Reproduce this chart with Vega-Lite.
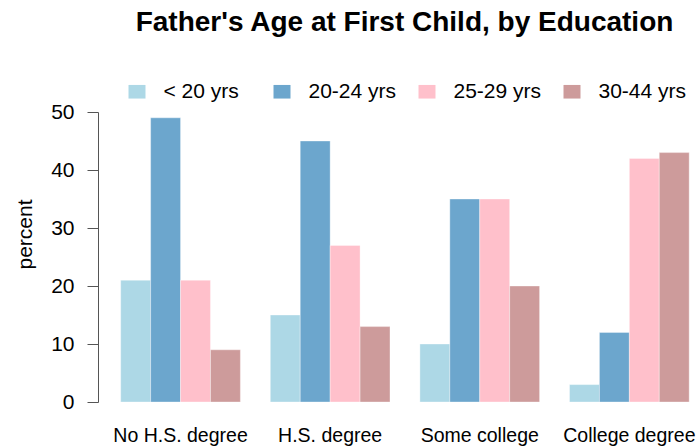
{
  "$schema": "https://vega.github.io/schema/vega-lite/v6.json",
  "width": 599,
  "height": 290,
  "autosize": {"type": "none"},
  "padding": {"left": 98, "top": 112, "right": 0, "bottom": 44},
  "background": "white",
  "config": {"view": {"stroke": null}, "font": "Liberation Sans"},
  "title": {
    "text": "Father's Age at First Child, by Education",
    "fontSize": 28,
    "fontWeight": "bold",
    "font": "Liberation Sans",
    "color": "black",
    "anchor": "middle",
    "frame": "group",
    "orient": "top",
    "offset": 22,
    "baseline": "alphabetic",
    "dx": 7
  },
  "data": {
    "values": [
      {"edu": "No H.S. degree", "age": "< 20 yrs", "pct": 21},
      {"edu": "No H.S. degree", "age": "20-24 yrs", "pct": 49},
      {"edu": "No H.S. degree", "age": "25-29 yrs", "pct": 21},
      {"edu": "No H.S. degree", "age": "30-44 yrs", "pct": 9},
      {"edu": "H.S. degree", "age": "< 20 yrs", "pct": 15},
      {"edu": "H.S. degree", "age": "20-24 yrs", "pct": 45},
      {"edu": "H.S. degree", "age": "25-29 yrs", "pct": 27},
      {"edu": "H.S. degree", "age": "30-44 yrs", "pct": 13},
      {"edu": "Some college", "age": "< 20 yrs", "pct": 10},
      {"edu": "Some college", "age": "20-24 yrs", "pct": 35},
      {"edu": "Some college", "age": "25-29 yrs", "pct": 35},
      {"edu": "Some college", "age": "30-44 yrs", "pct": 20},
      {"edu": "College degree", "age": "< 20 yrs", "pct": 3},
      {"edu": "College degree", "age": "20-24 yrs", "pct": 12},
      {"edu": "College degree", "age": "25-29 yrs", "pct": 42},
      {"edu": "College degree", "age": "30-44 yrs", "pct": 43}
    ]
  },
  "mark": {"type": "bar", "stroke": "white", "strokeOpacity": 0.35, "strokeWidth": 1},
  "encoding": {
    "x": {
      "field": "edu",
      "type": "nominal",
      "sort": ["No H.S. degree", "H.S. degree", "Some college", "College degree"],
      "scale": {"paddingInner": 0.2, "paddingOuter": 0.102, "align": 0.744},
      "axis": {
        "title": null,
        "domain": false,
        "ticks": false,
        "tickSize": 0,
        "labelAngle": 0,
        "labelFontSize": 19.5,
        "labelColor": "black",
        "labelBaseline": "alphabetic",
        "labelPadding": 39,
        "labelFont": "Liberation Sans"
      }
    },
    "xOffset": {
      "field": "age",
      "type": "nominal",
      "sort": ["< 20 yrs", "20-24 yrs", "25-29 yrs", "30-44 yrs"],
      "scale": {"paddingInner": 0, "paddingOuter": 0}
    },
    "y": {
      "field": "pct",
      "type": "quantitative",
      "scale": {"domain": [0, 50], "nice": false, "zero": true},
      "axis": {
        "values": [0, 10, 20, 30, 40, 50],
        "title": "percent",
        "grid": false,
        "domainColor": "#555555",
        "tickColor": "#555555",
        "tickSize": 11,
        "labelFontSize": 21,
        "labelColor": "black",
        "labelPadding": 13,
        "labelFlush": false,
        "labelFont": "Liberation Sans",
        "titleFont": "Liberation Sans",
        "titleFontSize": 21,
        "titleFontWeight": "normal",
        "titleColor": "black",
        "titleX": -73,
        "titleY": 122,
        "titleAngle": 270,
        "titleAlign": "center",
        "titleBaseline": "middle"
      }
    },
    "color": {
      "field": "age",
      "type": "nominal",
      "scale": {
        "domain": ["< 20 yrs", "20-24 yrs", "25-29 yrs", "30-44 yrs"],
        "range": ["#ADD8E6", "#6CA6CD", "#FFC0CB", "#CD9B9B"]
      },
      "legend": {
        "orient": "none",
        "legendX": 28.5,
        "legendY": -31,
        "direction": "horizontal",
        "columns": 4,
        "title": null,
        "symbolType": "M-1,-0.8H1V0.8H-1Z",
        "symbolSize": 289,
        "symbolStrokeWidth": 0,
        "symbolOpacity": 1,
        "labelFontSize": 21,
        "labelColor": "black",
        "labelFont": "Liberation Sans",
        "labelOffset": 16,
        "columnPadding": 20,
        "gridAlign": "all",
        "padding": 0,
        "labelLimit": 300
      }
    }
  }
}
